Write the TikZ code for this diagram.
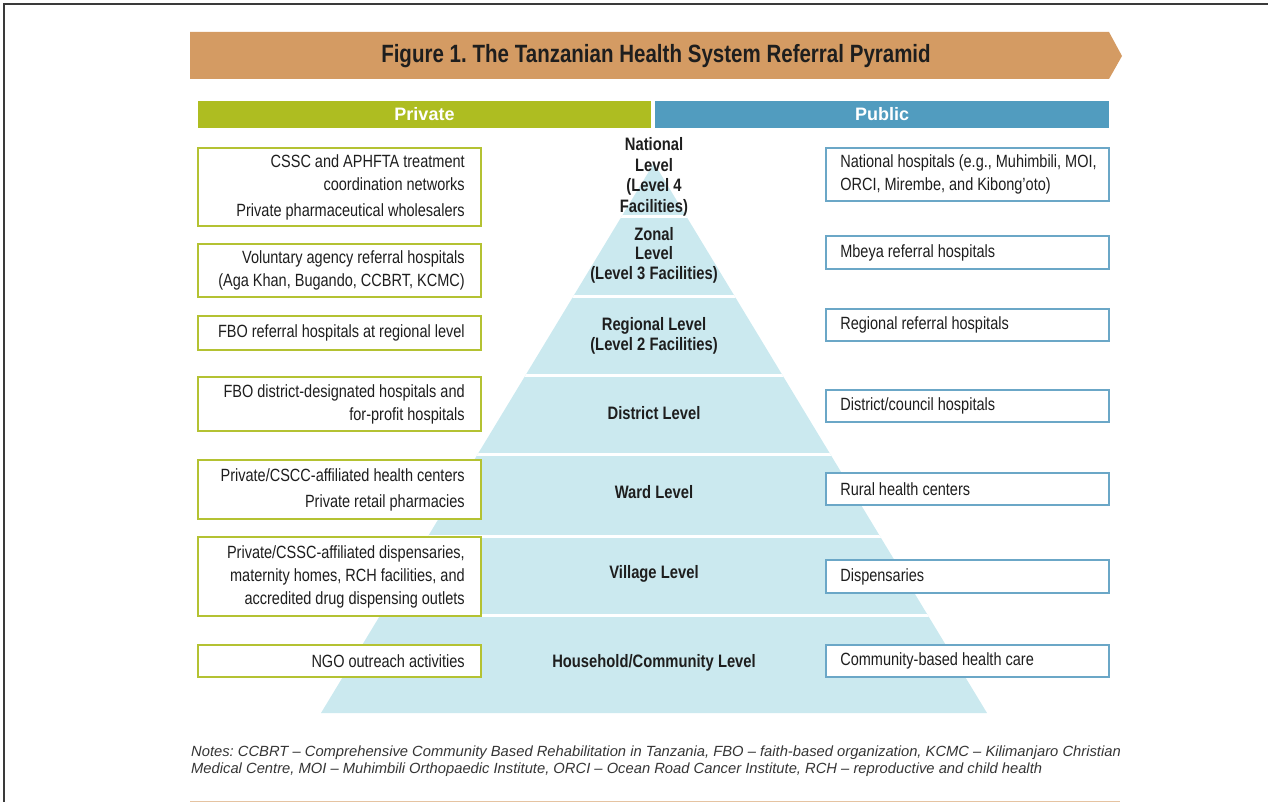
\documentclass[tikz,border=0pt]{standalone}
\usepackage{fontspec}
\setmainfont{Liberation Sans}[FakeStretch=0.82]
\newfontfamily\notefont{Liberation Sans}
\usepackage{tikz}
\usetikzlibrary{positioning, calc}
\newcommand{\tightsp}[1]{\frenchspacing\spaceskip=#1 plus 1pt minus 0.5pt\relax}
\definecolor{titletan}{HTML}{D49B63}
\definecolor{privgreen}{HTML}{AEBD21}
\definecolor{pubblue}{HTML}{519CBF}
\definecolor{privline}{HTML}{B4C232}
\definecolor{publine}{HTML}{6BA7C7}
\definecolor{pyrblue}{HTML}{CBE9EF}
\definecolor{textgray}{HTML}{1E1E1E}
\definecolor{framegray}{HTML}{3A3A3A}
\tikzstyle{privbox} = [draw=privline, line width=1.8pt, fill=white,
minimum width=283pt, inner sep=0pt]
\tikzstyle{pubbox} = [draw=publine, line width=1.8pt, fill=white,
minimum width=283pt, inner sep=0pt]
\tikzstyle{boxtext} = [inner sep=0pt, text=textgray,
font=\fontsize{17.7}{23}\selectfont\tightsp{4pt}]
\tikzstyle{levellabel} = [align=center, text=textgray, inner sep=0pt,
font=\bfseries\fontsize{18}{20.5}\selectfont\tightsp{4.2pt}]
\tikzstyle{headbox} = [text=white, inner sep=0pt,
minimum height=27pt, font=\notefont\bfseries\fontsize{18}{20}\selectfont]

\begin{document}
\begin{tikzpicture}[x=1pt, y=-1pt]
	\useasboundingbox (0,0) rectangle (1268,802);
	%% page frame
	\draw[line width=2pt, framegray] (4,802) -- (4,4) -- (1268,4);
	\draw[titletan!60, line width=1pt] (190,801) -- (1120,801);
	%% title banner
	\fill[titletan] (190,32) -- (1109,32) -- (1122,56) -- (1109,79) -- (190,79) -- cycle;
	\node[text=textgray, font=\bfseries\fontsize{25}{28}\selectfont\tightsp{5.8pt}] (title) at (656,56)
	{Figure 1. The Tanzanian Health System Referral Pyramid};
	%% column headers
	\node[headbox, fill=privgreen, minimum width=453pt] (private) at (424.5,114.5) {Private};
	\node[headbox, fill=pubblue, minimum width=454pt] (public) at (882,114.5) {Public};
	%% pyramid
	\coordinate (apex) at (654,163);
	\coordinate (baseL) at (321,713);
	\coordinate (baseR) at (987,713);
	\fill[pyrblue] (apex) -- (baseR) -- (baseL) -- cycle;
	\begin{scope}
		\clip (apex) -- (baseR) -- (baseL) -- cycle;
		\foreach \y in {217,296,375,454,536,615}
			\draw[white, line width=3pt] (300,\y) -- (1010,\y);
	\end{scope}
	\node[levellabel] (natlevel) at (654,177) {National\\Level\\(Level 4\\Facilities)};
	\node[levellabel, font=\bfseries\fontsize{18}{19.5}\selectfont\tightsp{4.2pt}] (zonlevel) at (654,255) {Zonal\\Level\\(Level 3 Facilities)};
	\node[levellabel] (reglevel) at (654,336) {Regional Level\\(Level 2 Facilities)};
	\node[levellabel] (dislevel) at (654,413) {District Level};
	\node[levellabel] (wardlevel) at (654,492) {Ward Level};
	\node[levellabel] (villevel) at (654,574) {Village Level};
	\node[levellabel] (hhlevel) at (654,663) {Household/Community Level};
	%% private side
	\node[privbox, minimum height=78pt] (privnat) at (339.5,187) {};
	\node[privbox, minimum height=53pt] (privzon) at (339.5,270.5) {};
	\node[privbox, minimum height=34pt] (privreg) at (339.5,333) {};
	\node[privbox, minimum height=54pt] (privdis) at (339.5,404) {};
	\node[privbox, minimum height=59pt] (privward) at (339.5,489.5) {};
	\node[privbox, minimum height=79pt] (privvil) at (339.5,576.5) {};
	\node[privbox, minimum height=32pt] (privhh) at (339.5,661) {};
	\node[boxtext, align=right, left=17pt of privnat.east] (privnattxt) {
		CSSC and APHFTA treatment\\
		coordination networks\\[3pt]
		Private pharmaceutical wholesalers};
	\node[boxtext, align=right, left=17pt of privzon.east] (privzontxt) {
		Voluntary agency referral hospitals\\
		(Aga Khan, Bugando, CCBRT, KCMC)};
	\node[boxtext, align=right, left=17pt of privreg.east] (privregtxt) {
		FBO referral hospitals at regional level};
	\node[boxtext, align=right, left=17pt of privdis.east] (privdistxt) {
		FBO district-designated hospitals and\\
		for-profit hospitals};
	\node[boxtext, align=right, left=17pt of privward.east] (privwardtxt) {
		Private/CSCC-affiliated health centers\\[3pt]
		Private retail pharmacies};
	\node[boxtext, align=right, left=17pt of privvil.east] (privviltxt) {
		Private/CSSC-affiliated dispensaries,\\
		maternity homes, RCH facilities, and\\
		accredited drug dispensing outlets};
	\node[boxtext, align=right, left=17pt of privhh.east] (privhhtxt) {
		NGO outreach activities};
	%% public side
	\node[pubbox, minimum height=53pt] (pubnat) at (967.5,174.5) {};
	\node[pubbox, minimum height=33pt] (pubzon) at (967.5,252.5) {};
	\node[pubbox, minimum height=32pt] (pubreg) at (967.5,325) {};
	\node[pubbox, minimum height=32pt] (pubdis) at (967.5,406) {};
	\node[pubbox, minimum height=32pt] (pubward) at (967.5,489) {};
	\node[pubbox, minimum height=33pt] (pubvil) at (967.5,576.5) {};
	\node[pubbox, minimum height=32pt] (pubhh) at (967.5,661) {};
	\node[boxtext, align=left, right=15pt of pubnat.west] (pubnattxt) {
		National hospitals (e.g., Muhimbili, MOI,\\
		ORCI, Mirembe, and Kibong'oto)};
	\node[boxtext, right=15pt of pubzon.west] (pubzontxt) {Mbeya referral hospitals};
	\node[boxtext, right=15pt of pubreg.west] (pubregtxt) {Regional referral hospitals};
	\node[boxtext, right=15pt of pubdis.west] (pubdistxt) {District/council hospitals};
	\node[boxtext, right=15pt of pubward.west] (pubwardtxt) {Rural health centers};
	\node[boxtext, right=15pt of pubvil.west] (pubviltxt) {Dispensaries};
	\node[boxtext, right=15pt of pubhh.west] (pubhhtxt) {Community-based health care};
	%% notes
	\node[anchor=north west, align=left, inner sep=0pt, text=textgray!90,
	font=\notefont\itshape\fontsize{14.75}{17}\selectfont\frenchspacing] (notes) at (191,746) {
		Notes: CCBRT – Comprehensive Community Based Rehabilitation in Tanzania, FBO – faith-based organization, KCMC – Kilimanjaro Christian\\
		Medical Centre, MOI – Muhimbili Orthopaedic Institute, ORCI – Ocean Road Cancer Institute, RCH – reproductive and child health};
\end{tikzpicture}
\end{document}
